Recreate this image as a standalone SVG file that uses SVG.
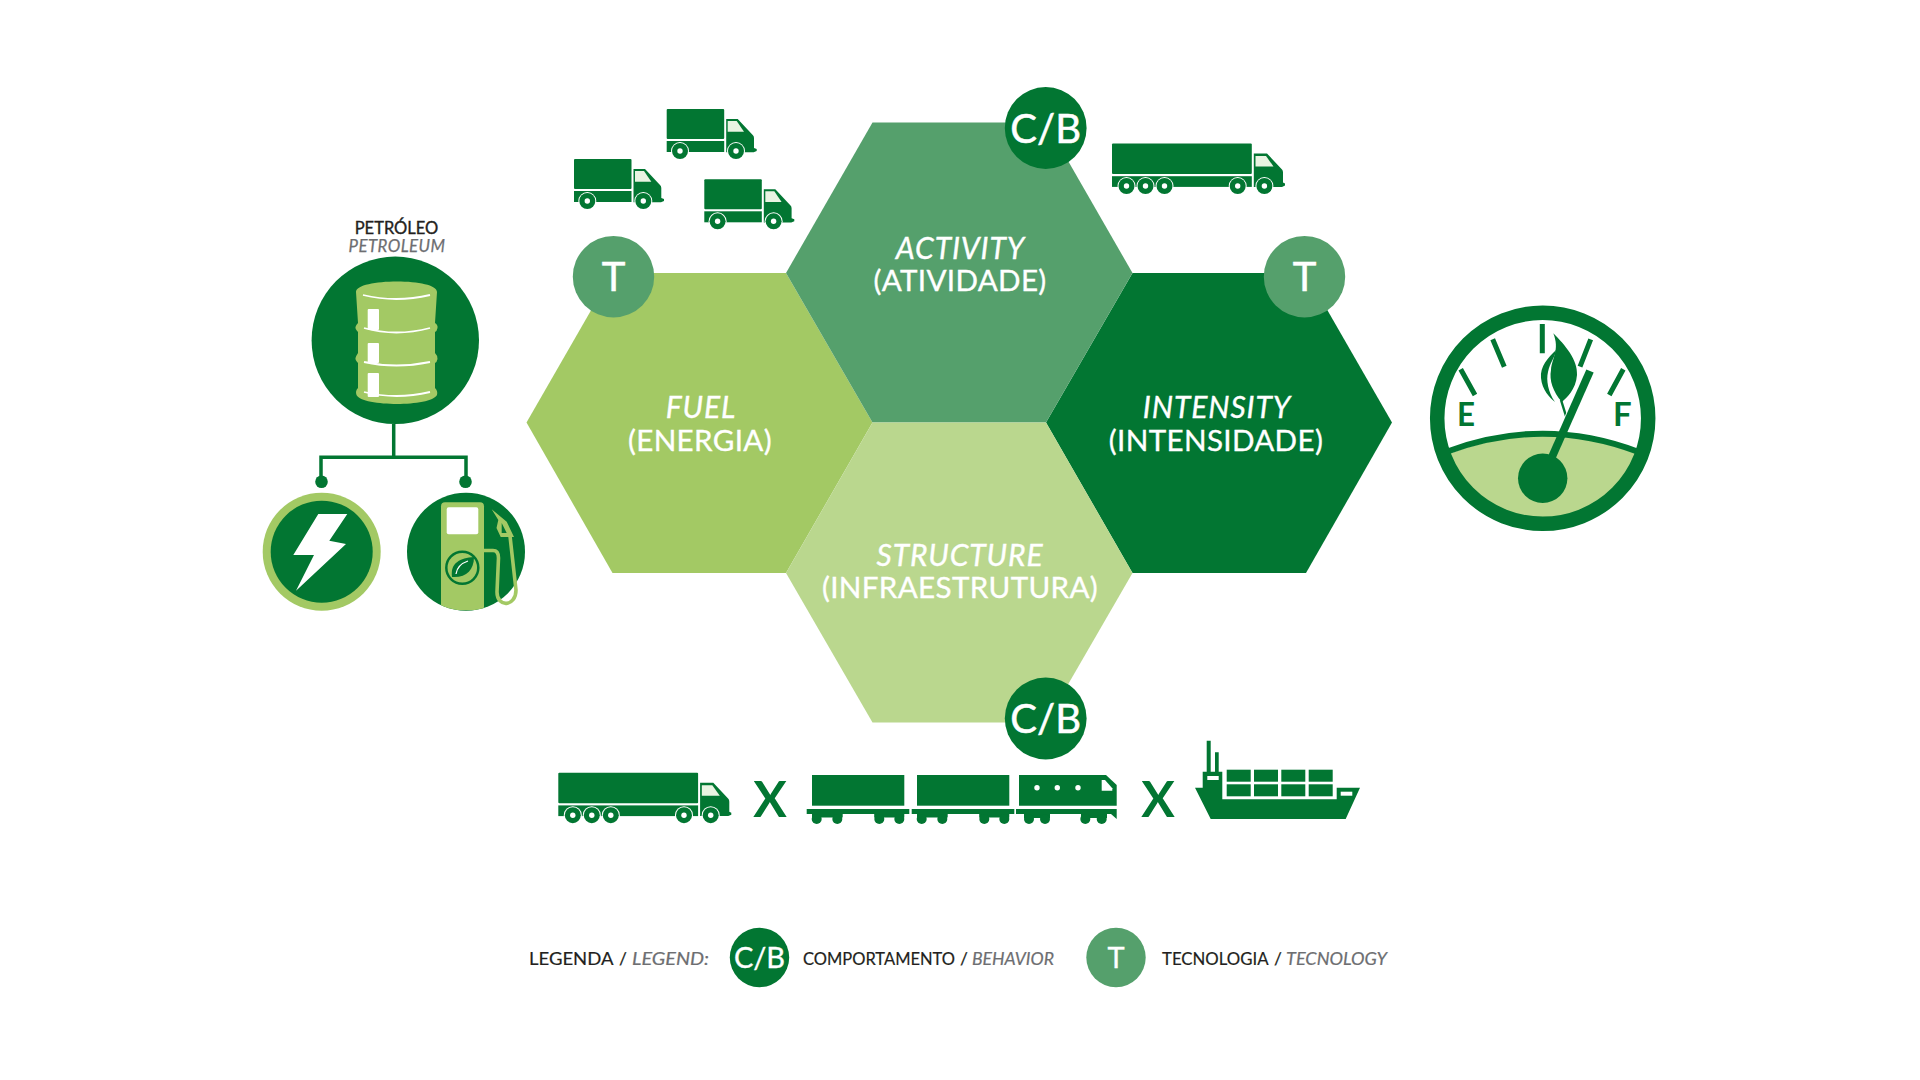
<svg xmlns="http://www.w3.org/2000/svg" xmlns:xlink="http://www.w3.org/1999/xlink" width="1920" height="1080" viewBox="0 0 1920 1080">
<style>
.d{fill:#027632}.l{fill:#A3C964}.m{fill:#55A06C}.p{fill:#BAD78E}
text{font-family:"Lato","Open Sans","Liberation Sans",sans-serif}
.hex{font-size:29.6px;letter-spacing:.35px;fill:#fff;stroke:#fff;stroke-width:.35px;text-anchor:middle;font-weight:400}
.it{font-style:italic;font-size:30px;letter-spacing:.9px}
.badge{font-size:40px;fill:#fff;stroke:#fff;stroke-width:.5px;text-anchor:middle}
.bs{font-size:29px;fill:#fff;stroke:#fff;stroke-width:.35px;text-anchor:middle}
.leg{font-size:17.4px;fill:#231f20;stroke:#231f20;stroke-width:.2px}
.gr{fill:#6d6e71;stroke:#6d6e71;font-style:italic}
.x{font-size:50px;font-weight:700;fill:#027632;text-anchor:middle}
.wh{fill:#fff;stroke:none}
.lg{fill:none;stroke:#027632}
</style>
<defs>
<g id="wheel"><circle r="9" fill="#fff"/><circle r="8" class="d"/><circle r="2.7" fill="#fff"/></g>
<g id="truck-small">
<rect x="0" y="0" width="57.5" height="30" rx="1" class="d"/>
<rect x="0" y="32" width="57.5" height="11" class="d"/>
<path class="d" d="M59.5 10H71L86 26Q87.3 27 87.3 29V39L90 40V42L87 43.3H59.5Z"/>
<path fill="#e9f4e2" d="M61 12H70L77.3 22.7H61Z"/>
<use xlink:href="#wheel" x="13.3" y="42"/><use xlink:href="#wheel" x="69.3" y="42"/>
</g>
<g id="truck-long">
<rect x="0" y="0" width="139.8" height="30.5" rx="1" class="d"/>
<rect x="0" y="32.7" width="139.8" height="10.7" class="d"/>
<path class="d" d="M141.8 10H155L170 26Q171 27 171 29V39L173 40V42L170 43.4H141.8Z"/>
<path fill="#e9f4e2" d="M143.5 12.5H154L161.5 23H143.5Z"/>
<use xlink:href="#wheel" x="14.5" y="42.5"/><use xlink:href="#wheel" x="33.5" y="42.5"/><use xlink:href="#wheel" x="52.5" y="42.5"/><use xlink:href="#wheel" x="125.7" y="42.5"/><use xlink:href="#wheel" x="152.4" y="42.5"/>
</g>
<g id="wagon">
<rect x="5.3" y="0" width="92.3" height="30.7" class="d"/>
<rect x="0" y="34" width="102.6" height="5" class="d"/>
<path class="d" d="M5.3 39H36V42.5H5.3Z M67.5 39H97.6V42.5H67.5Z"/>
<circle cx="10" cy="44" r="5" class="d"/><circle cx="30.6" cy="44" r="5" class="d"/><circle cx="72.6" cy="44" r="5" class="d"/><circle cx="92.6" cy="44" r="5" class="d"/>
</g>
<clipPath id="pumpclip"><circle cx="466" cy="551.7" r="59"/></clipPath>
</defs>
<rect width="1920" height="1080" fill="#fff"/>

<g id="connectors">
<path d="M393.7 424V457.3M321 481V457.3H466V481" fill="none" stroke="#027632" stroke-width="3.5"/>
<circle cx="321.5" cy="481.7" r="6.3" class="d"/><circle cx="465.5" cy="481.7" r="6.3" class="d"/>
</g>

<g id="hex-fuel"><polygon class="l" points="526.5,422.5 612.5,273 786,273 872.5,422.5 786,573 612.5,573"/>
<text class="hex it" x="701" y="418">FUEL</text><text class="hex" x="700" y="450.5">(ENERGIA)</text></g>
<g id="hex-intensity"><polygon class="d" points="1046,422.5 1132.5,273 1306,273 1392,422.5 1306,573 1132.5,573"/>
<text class="hex it" x="1217" y="418">INTENSITY</text><text class="hex" x="1216" y="450.5">(INTENSIDADE)</text></g>
<g id="hex-activity"><polygon class="m" points="786,273 872.5,122.5 1046,122.5 1132.5,273 1046,422.5 872.5,422.5"/>
<text class="hex it" x="960.500" y="259">ACTIVITY</text><text class="hex" x="960" y="291">(ATIVIDADE)</text></g>
<g id="hex-structure"><polygon class="p" points="786,573 872.5,422.5 1046,422.5 1132.5,573 1046,722.5 872.5,722.5"/>
<text class="hex it" x="960" y="565.5">STRUCTURE</text><text class="hex" x="960" y="598">(INFRAESTRUTURA)</text></g>

<g id="badge-cb-top"><circle cx="1045.7" cy="128" r="40.9" class="d"/><text class="badge" x="1045.7" y="143">C/B</text></g>
<g id="badge-cb-bottom"><circle cx="1045.7" cy="718.5" r="40.9" class="d"/><text class="badge" x="1045.7" y="733">C/B</text></g>
<g id="badge-t-left"><circle cx="613.5" cy="276.7" r="40.7" class="m"/><text class="badge" x="613.5" y="291">T</text></g>
<g id="badge-t-right"><circle cx="1304.500" cy="276.7" r="40.7" class="m"/><text class="badge" x="1304.500" y="291">T</text></g>

<g id="trucks-small">
<use xlink:href="#truck-small" x="666.7" y="109"/>
<use xlink:href="#truck-small" x="574" y="159"/>
<use xlink:href="#truck-small" x="704.3" y="179.3"/>
</g>
<use id="truck-top-right" xlink:href="#truck-long" x="1112" y="143.5"/>

<g id="petroleum">
<text x="396.5" y="234" text-anchor="middle" font-size="16.5" fill="#231f20" stroke="#231f20" stroke-width=".35">PETRÓLEO</text>
<text x="397" y="251.5" text-anchor="middle" font-size="16.8" letter-spacing=".45" fill="#6d6e71" stroke="#6d6e71" stroke-width=".25" font-style="italic">PETROLEUM</text>
<circle cx="395.3" cy="340.3" r="83.7" class="d"/>
<path class="l" d="M356 292C356 285 376 281.5 397 281.5S437 285 437 292L435 323Q438 325 437.5 328T435 332V353Q438 356 437.5 359T435 363L435 388Q438 391 437 395C434 401 415 404 397 404S359 401 356.5 395Q355 391 358 388V363Q355 360 355.5 358T358 353V332Q355 329 355.5 327T358 323Z"/>
<g class="wh"><rect x="367.7" y="309" width="11.3" height="21" rx="1"/><rect x="367.7" y="343" width="11.3" height="20" rx="1"/><rect x="367.7" y="373" width="11.3" height="24" rx="1"/></g>
<path d="M363 295Q396 303 430 295M364 328Q396 337 430 328M364 362Q396 369 430 362M364 392Q396 400 430 392" fill="none" stroke="#fff" stroke-width="1.8"/>
</g>

<g id="electric">
<circle cx="321.7" cy="551.7" r="59" class="l"/><circle cx="321.7" cy="551.7" r="51" class="d"/>
<polygon fill="#fff" points="318.3,514 347.3,514 329.3,540.7 346,544 296,590.7 314,555 293.3,555"/>
</g>

<g id="biofuel">
<circle cx="466" cy="551.7" r="59" class="d"/>
<g clip-path="url(#pumpclip)"><rect x="441" y="502.3" width="43" height="108" rx="4" class="l"/></g>
<rect x="446.7" y="507.3" width="31.6" height="27" rx="2" fill="#fff"/>
<circle cx="462.3" cy="567.7" r="16" fill="#A3C964" stroke="#027632" stroke-width="2.5"/>
<path class="d" d="M452 577C450 563 460 558 474 557C474 570 466 578 452 577Z"/>
<path d="M456 574C457 567 462 563 468 561" fill="none" stroke="#fff" stroke-width="1.3"/>
<path d="M484 550.5H493Q498.5 550.5 498.5 558L497 592C497 608 516 607 516 590L510 536" fill="none" stroke="#A3C964" stroke-width="3.6"/>
<polygon class="l" points="491.7,509.3 506.7,521.7 514,537 500.7,537 496.5,528 498.3,520"/>
<polygon class="d" points="501.7,523 506.7,533 501.7,533"/>
</g>

<g id="gauge">
<circle cx="1542.7" cy="418.3" r="98" fill="#fff"/>
<path class="p" d="M1446 455Q1543 417 1640 455L1640 460A103 103 0 0 1 1446 460Z"/>
<path d="M1446.7 451.7Q1543 415.7 1638 451.7" class="lg" stroke-width="6"/>
<circle cx="1542.7" cy="418.3" r="105.5" class="lg" stroke-width="14.5"/>
<path d="M1460.7 369.3L1475 395M1492.7 339.3L1504.3 366.7M1542.3 324V353.3M1590.7 339.3L1580 366.7M1623.3 369.3L1609.3 395" class="lg" stroke-width="5"/>
<text x="1457" y="426" font-size="33" font-weight="700" class="d" textLength="18" lengthAdjust="spacingAndGlyphs">E</text>
<text x="1613" y="426" font-size="33" font-weight="700" class="d">F</text>
<path class="d" d="M1553.3 333.3C1565 345 1578 360 1577 375C1576 390 1566 398 1562 402C1553 392 1549 380 1551 370C1552 358 1560 350 1553.3 333.3Z"/>
<path class="d" d="M1556 350C1548 358 1540 366 1541 378C1542 390 1550 398 1555 402C1548 392 1546 380 1548 372C1550 362 1555 358 1556 350Z"/>
<path d="M1561 400L1566 416" class="lg" stroke-width="2.5"/>
<path d="M1570 418L1589 376" fill="none" stroke="#fff" stroke-width="11"/>
<path d="M1542.7 478L1590 371" class="lg" stroke-width="8"/>
<circle cx="1542.7" cy="478.3" r="24.7" class="d"/>
</g>

<g id="mode-truck"><use xlink:href="#truck-long" x="558.3" y="772.7"/></g>
<text class="x" x="770" y="817">X</text>
<g id="mode-train">
<use xlink:href="#wagon" x="806.7" y="775"/>
<use xlink:href="#wagon" x="911.7" y="775"/>
<path class="d" d="M1019 775H1106L1116.7 785V805.7H1019Z"/>
<circle cx="1037" cy="787.7" r="2.7" fill="#fff"/><circle cx="1057.3" cy="787.7" r="2.7" fill="#fff"/><circle cx="1078" cy="787.7" r="2.7" fill="#fff"/>
<path fill="#fff" d="M1101.7 780H1105L1112.3 788.3V790.7H1101.7Z"/>
<path class="d" d="M1016 809H1116.7V819L1111 814H1016Z"/>
<path class="d" d="M1024 814H1050V818H1024ZM1081 814H1107V818H1081Z"/>
<circle cx="1029" cy="819" r="5" class="d"/><circle cx="1045" cy="819" r="5" class="d"/><circle cx="1085.3" cy="819" r="5" class="d"/><circle cx="1101.7" cy="819" r="5" class="d"/>
</g>
<text class="x" x="1158" y="817">X</text>
<g id="mode-ship">
<path class="d" d="M1195 787.7H1202.7V771.7H1206.7V740.7H1210.7V771.7H1215V752.3H1218.7V771.7H1222.3V799.3H1336.7V787.7H1360L1345.7 819H1210.7Z"/>
<rect x="1207.3" y="776" width="11.4" height="4" fill="#fff"/><rect x="1340.7" y="791.7" width="11.6" height="4" fill="#fff"/>
<g class="d"><rect x="1226.7" y="769.7" width="24" height="12"/><rect x="1254" y="769.7" width="24" height="12"/><rect x="1281.3" y="769.7" width="24" height="12"/><rect x="1308.7" y="769.7" width="24" height="12"/>
<rect x="1226.7" y="784.3" width="24" height="12"/><rect x="1254" y="784.3" width="24" height="12"/><rect x="1281.3" y="784.3" width="24" height="12"/><rect x="1308.7" y="784.3" width="24" height="12"/></g>
</g>

<g id="legend">
<text class="leg" x="529" y="965" textLength="84.5" lengthAdjust="spacingAndGlyphs">LEGENDA</text>
<text class="leg" x="619" y="965">/</text>
<text class="leg gr" x="632" y="965" textLength="77" lengthAdjust="spacingAndGlyphs">LEGEND:</text>
<circle cx="759.5" cy="957.5" r="29.7" class="d"/><text class="bs" x="759.5" y="967.5">C/B</text>
<text class="leg" x="803" y="965" textLength="152" lengthAdjust="spacingAndGlyphs">COMPORTAMENTO</text>
<text class="leg" x="960" y="965">/</text>
<text class="leg gr" x="972" y="965" textLength="82" lengthAdjust="spacingAndGlyphs">BEHAVIOR</text>
<circle cx="1116" cy="957.5" r="29.7" class="m"/><text class="bs" x="1116" y="967.5">T</text>
<text class="leg" x="1162" y="965" textLength="106.5" lengthAdjust="spacingAndGlyphs">TECNOLOGIA</text>
<text class="leg" x="1274" y="965">/</text>
<text class="leg gr" x="1286" y="965" textLength="101" lengthAdjust="spacingAndGlyphs">TECNOLOGY</text>
</g>
</svg>
